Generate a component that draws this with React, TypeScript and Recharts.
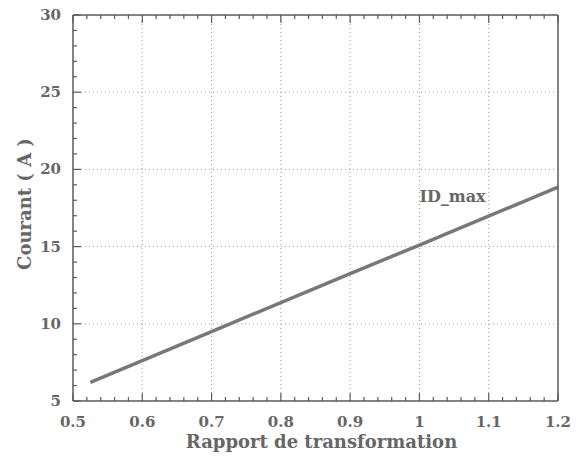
import React from 'react';
import { LineChart, Line, XAxis, YAxis, ReferenceLine, ReferenceDot } from 'recharts';

const ratio = [0.525, 0.7, 0.9, 1.0, 1.2];
const idMax = [6.2, 9.5, 13.25, 15.1, 18.85];

const xMajor = [0.5, 0.6, 0.7, 0.8, 0.9, 1.0, 1.1, 1.2];
const xTicks = [
  0.5, 0.52, 0.54, 0.56, 0.58, 0.6, 0.62, 0.64, 0.66, 0.68, 0.7, 0.72, 0.74, 0.76, 0.78,
  0.8, 0.82, 0.84, 0.86, 0.88, 0.9, 0.92, 0.94, 0.96, 0.98, 1.0, 1.02, 1.04, 1.06, 1.08,
  1.1, 1.12, 1.14, 1.16, 1.18, 1.2,
];
const yMajor = [5, 10, 15, 20, 25, 30];
const yTicks = [
  5, 6, 7, 8, 9, 10, 11, 12, 13, 14, 15, 16, 17, 18, 19, 20, 21, 22, 23, 24, 25, 26, 27, 28,
  29, 30,
];

const data = ratio.map((r, i) => ({ ratio: r, idMax: idMax[i] }));

const FONT = '"DejaVu Serif", "Liberation Serif", serif';
const TEXT = '#666';
const AXIS = '#5a5a5a';

const isMajor = (list: number[], v: number) => list.some((m) => Math.abs(m - v) < 1e-6);

const fmtX = (v: number) => (Math.abs(v - 1) < 1e-6 ? '1' : String(v));

const XTick = (props: any) => {
  const { x, y, payload, side } = props;
  const major = isMajor(xMajor, payload.value);
  const len = major ? 8 : 4;
  const dir = side === 'top' ? 1 : -1;
  return (
    <g>
      <line x1={x} x2={x} y1={y} y2={y + dir * len} stroke={AXIS} strokeWidth={1.2} />
      {side !== 'top' && major && (
        <text x={x} y={y + 26} textAnchor="middle" fill={TEXT} fontFamily={FONT} fontWeight="bold" fontSize={15}>
          {fmtX(payload.value)}
        </text>
      )}
    </g>
  );
};

const YTick = (props: any) => {
  const { x, y, payload, side } = props;
  const major = isMajor(yMajor, payload.value);
  const len = major ? 8 : 4;
  const dir = side === 'right' ? -1 : 1;
  return (
    <g>
      <line x1={x} x2={x + dir * len} y1={y} y2={y} stroke={AXIS} strokeWidth={1.2} />
      {side !== 'right' && major && (
        <text x={x - 12} y={y + 5} textAnchor="end" fill={TEXT} fontFamily={FONT} fontWeight="bold" fontSize={15}>
          {payload.value}
        </text>
      )}
    </g>
  );
};

export default function App() {
  return (
    <div style={{ position: 'absolute', left: 0, top: 0, width: 582, height: 462, background: '#fff' }}>
      <LineChart width={582} height={462} data={data} margin={{ top: 14, right: 23, left: 72, bottom: 60 }}>
        {xMajor.slice(1, -1).map((v) => (
          <ReferenceLine key={'gx' + v} xAxisId="b" yAxisId="l" x={v} stroke="#a0a0a0" strokeDasharray="1 3" strokeWidth={1} />
        ))}
        {yMajor.slice(1, -1).map((v) => (
          <ReferenceLine key={'gy' + v} xAxisId="b" yAxisId="l" y={v} stroke="#a0a0a0" strokeDasharray="1 3" strokeWidth={1} />
        ))}
        <XAxis
          xAxisId="b"
          dataKey="ratio"
          type="number"
          domain={[0.5, 1.2]}
          ticks={xTicks}
          interval={0}
          height={1}
          tickSize={0}
          tickMargin={0}
          tickLine={false}
          axisLine={{ stroke: AXIS, strokeWidth: 1.5 }}
          tick={<XTick side="bottom" />}
        />
        <XAxis
          xAxisId="t"
          orientation="top"
          dataKey="ratio"
          type="number"
          domain={[0.5, 1.2]}
          ticks={xTicks}
          interval={0}
          height={1}
          tickSize={0}
          tickMargin={0}
          tickLine={false}
          axisLine={{ stroke: AXIS, strokeWidth: 1.5 }}
          tick={<XTick side="top" />}
        />
        <YAxis
          yAxisId="l"
          type="number"
          domain={[5, 30]}
          ticks={yTicks}
          interval={0}
          width={1}
          tickSize={0}
          tickMargin={0}
          tickLine={false}
          axisLine={{ stroke: AXIS, strokeWidth: 1.5 }}
          tick={<YTick side="left" />}
        />
        <YAxis
          yAxisId="r"
          orientation="right"
          type="number"
          domain={[5, 30]}
          ticks={yTicks}
          interval={0}
          width={1}
          tickSize={0}
          tickMargin={0}
          tickLine={false}
          axisLine={{ stroke: AXIS, strokeWidth: 1.5 }}
          tick={<YTick side="right" />}
        />
        <Line
          xAxisId="b"
          yAxisId="l"
          type="linear"
          dataKey="idMax"
          stroke="#787878"
          strokeWidth={3.5}
          dot={false}
          isAnimationActive={false}
        />
        <ReferenceDot
          xAxisId="b"
          yAxisId="l"
          x={1.0}
          y={18.25}
          r={0}
          fill="none"
          stroke="none"
          label={{ value: 'ID_max', position: 'right', offset: 0, fill: TEXT, fontFamily: FONT, fontWeight: 'bold', fontSize: 16 }}
        />
      </LineChart>
      <div
        style={{
          position: 'absolute',
          left: 79,
          width: 485,
          top: 432,
          lineHeight: '20px',
          textAlign: 'center',
          fontFamily: FONT,
          fontWeight: 'bold',
          fontSize: 18,
          color: TEXT,
        }}
      >
        Rapport de transformation
      </div>
      <div
        style={{
          position: 'absolute',
          left: 24,
          top: 204,
          transform: 'translate(-50%, -50%) rotate(-90deg)',
          whiteSpace: 'nowrap',
          fontFamily: FONT,
          fontWeight: 'bold',
          fontSize: 18,
          color: TEXT,
        }}
      >
        Courant ( A )
      </div>
    </div>
  );
}
